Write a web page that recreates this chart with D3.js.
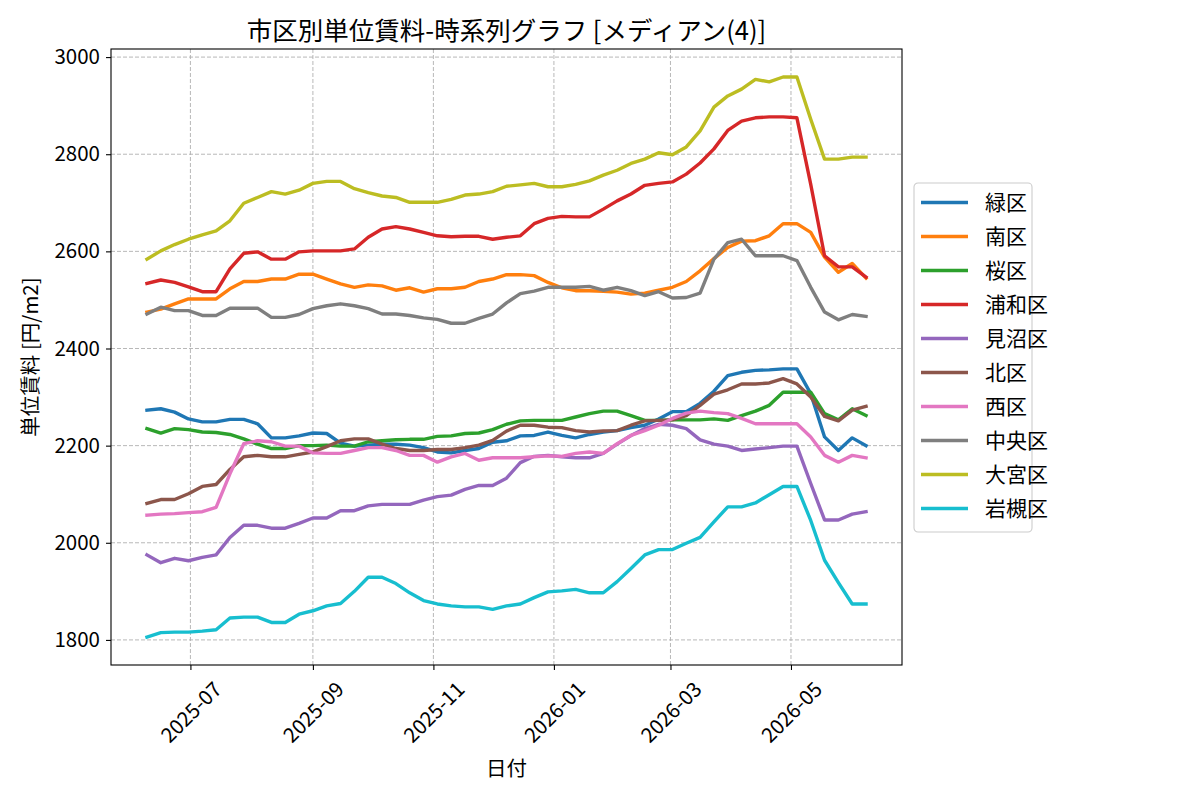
<!DOCTYPE html>
<html>
<head>
<meta charset="utf-8">
<script src="https://cdn.jsdelivr.net/npm/d3@7"></script>
<style>
  body { margin: 0; background: #fff; }
  svg text { font-family: "Noto Sans CJK JP", "Noto Sans", sans-serif; fill: #000; }
</style>
</head>
<body>
<div id="chart"></div>
<script>
/* weekly dates */
const dates = [
  "2025-06-09","2025-06-16","2025-06-23","2025-06-30","2025-07-07","2025-07-14","2025-07-21","2025-07-28",
  "2025-08-04","2025-08-11","2025-08-18","2025-08-25","2025-09-01","2025-09-08","2025-09-15","2025-09-22",
  "2025-09-29","2025-10-06","2025-10-13","2025-10-20","2025-10-27","2025-11-03","2025-11-10","2025-11-17",
  "2025-11-24","2025-12-01","2025-12-08","2025-12-15","2025-12-22","2025-12-29","2026-01-05","2026-01-12",
  "2026-01-19","2026-01-26","2026-02-02","2026-02-09","2026-02-16","2026-02-23","2026-03-02","2026-03-09",
  "2026-03-16","2026-03-23","2026-03-30","2026-04-06","2026-04-13","2026-04-20","2026-04-27","2026-05-04",
  "2026-05-11","2026-05-18","2026-05-25","2026-06-01","2026-06-08"
];

const wards = ["緑区", "南区", "桜区", "浦和区", "見沼区", "北区", "西区", "中央区", "大宮区", "岩槻区"];
const colors = ["#1f77b4", "#ff7f0e", "#2ca02c", "#d62728", "#9467bd", "#8c564b", "#e377c2", "#7f7f7f", "#bcbd22", "#17becf"];

const midori = [2273,2276,2269,2255,2249,2249,2254,2254,2245,2216, 2216,2220,2226,2225,2205,2199,2201,2203,2203,2201,
  2196,2187,2185,2190,2194,2207,2210,2220,2221,2228, 2221,2216,2223,2228,2231,2237,2242,2255,2270,2270,
  2287,2312,2344,2351,2355,2356,2358,2358,2307,2218, 2190,2216,2200];
const minami = [2475,2481,2492,2502,2502,2502,2523,2538,2538,2543, 2543,2553,2553,2543,2533,2526,2531,2529,2520,2525,
  2516,2523,2523,2526,2538,2543,2552,2552,2550,2536, 2525,2519,2519,2518,2516,2512,2514,2520,2526,2538,
  2560,2585,2608,2621,2622,2632,2657,2657,2639,2588, 2557,2575,2545];
const sakura = [2235,2226,2235,2233,2228,2227,2223,2214,2203,2194, 2194,2200,2200,2201,2199,2199,2208,2210,2212,2213,
  2213,2219,2220,2225,2226,2233,2244,2251,2252,2252, 2252,2259,2266,2271,2271,2262,2252,2252,2253,2253,
  2253,2255,2252,2262,2271,2283,2310,2310,2310,2266, 2253,2276,2262];
const urawa = [2534,2541,2536,2527,2517,2517,2564,2596,2599,2584, 2584,2599,2601,2601,2601,2605,2629,2646,2651,2646,
  2639,2632,2630,2631,2631,2625,2629,2632,2657,2668, 2672,2671,2671,2687,2704,2718,2736,2740,2743,2759,
  2782,2811,2849,2868,2875,2877,2877,2875,2738,2591, 2568,2568,2547];
const minuma = [1975,1959,1968,1963,1970,1975,2011,2036,2036,2030, 2030,2040,2051,2051,2066,2066,2076,2079,2079,2079,
  2088,2095,2098,2110,2118,2118,2133,2165,2178,2180, 2177,2175,2175,2184,2203,2221,2235,2244,2242,2235,
  2212,2203,2199,2190,2193,2196,2199,2199,2122,2047, 2047,2059,2064];
const kita = [2081,2089,2089,2101,2116,2120,2151,2177,2180,2177, 2177,2182,2187,2198,2210,2214,2214,2203,2194,2190,
  2190,2192,2192,2196,2201,2211,2230,2242,2242,2238, 2237,2231,2228,2230,2231,2242,2251,2252,2253,2262,
  2283,2306,2315,2327,2327,2329,2338,2327,2300,2260, 2251,2273,2281];
const nishi = [2057,2059,2060,2062,2064,2073,2142,2204,2210,2208, 2199,2199,2185,2184,2184,2190,2196,2196,2190,2180,
  2180,2166,2177,2184,2170,2175,2175,2175,2177,2179, 2178,2184,2187,2184,2204,2221,2231,2242,2256,2267,
  2271,2268,2266,2256,2245,2245,2245,2245,2218,2180, 2166,2180,2175];
const chuo = [2471,2485,2478,2478,2468,2468,2483,2483,2483,2464, 2464,2470,2482,2488,2492,2488,2482,2471,2471,2468,
  2463,2460,2452,2452,2462,2471,2494,2513,2518,2526, 2526,2526,2528,2520,2526,2519,2509,2517,2504,2505,
  2514,2584,2618,2625,2591,2591,2591,2581,2526,2475, 2459,2470,2466];
const omiya = [2584,2601,2614,2625,2634,2642,2663,2699,2711,2723, 2718,2726,2740,2744,2744,2729,2721,2714,2711,2701,
  2701,2701,2707,2716,2718,2723,2734,2737,2740,2733, 2733,2738,2745,2757,2767,2781,2790,2803,2799,2815,
  2848,2897,2920,2934,2954,2949,2959,2959,2872,2790, 2790,2794,2794];
const iwatsuki = [1806,1815,1816,1816,1818,1821,1845,1847,1847,1836, 1836,1853,1860,1870,1875,1900,1929,1929,1916,1897,
  1881,1874,1870,1868,1868,1863,1870,1874,1887,1899, 1901,1904,1897,1897,1920,1947,1975,1986,1986,1999,
  2011,2043,2074,2074,2082,2099,2116,2116,2046,1964, 1918,1874,1874];

const yTicks = [1800, 2000, 2200, 2400, 2600, 2800, 3000];
const xTicks = ["2025-07-01", "2025-09-01", "2025-11-01", "2026-01-01", "2026-03-01", "2026-05-01"];

const seriesValues = [midori, minami, sakura, urawa, minuma, kita, nishi, chuo, omiya, iwatsuki];

/* layout */
const W = 1200, H = 800;
const margin = { top: 49, right: 298, bottom: 135, left: 111 };
const width = W - margin.left - margin.right,
      height = H - margin.top - margin.bottom;

const parse = d3.timeParse("%Y-%m-%d");
const xDates = dates.map(parse);

const svg = d3.select("#chart").append("svg")
    .attr("width", W)
    .attr("height", H);

const g = svg.append("g")
    .attr("transform", "translate(" + margin.left + "," + margin.top + ")");

/* scales with 5% margins like matplotlib */
const xExt = d3.extent(xDates);
const xPad = (xExt[1] - xExt[0]) * 0.05;
const x = d3.scaleTime()
    .domain([new Date(+xExt[0] - xPad), new Date(+xExt[1] + xPad)])
    .range([0, width]);

const allVals = seriesValues.flat();
const yMin = d3.min(allVals), yMax = d3.max(allVals);
const yPad = (yMax - yMin) * 0.05;
const y = d3.scaleLinear()
    .domain([yMin - yPad, yMax + yPad])
    .range([height, 0]);

/* grid */
g.append("g")
    .selectAll("line")
    .data(xTicks.map(parse))
    .enter().append("line")
    .attr("x1", d => x(d)).attr("x2", d => x(d))
    .attr("y1", 0).attr("y2", height)
    .attr("stroke", "#b0b0b0")
    .attr("stroke-width", 0.9)
    .attr("stroke-dasharray", "4,2");

g.append("g")
    .selectAll("line")
    .data(yTicks)
    .enter().append("line")
    .attr("x1", 0).attr("x2", width)
    .attr("y1", d => y(d)).attr("y2", d => y(d))
    .attr("stroke", "#b0b0b0")
    .attr("stroke-width", 0.9)
    .attr("stroke-dasharray", "4,2");

/* lines */
const line = d3.line()
    .x((d, i) => x(xDates[i]))
    .y(d => y(d));

svg.append("clipPath").attr("id", "plotclip")
    .append("rect").attr("width", width).attr("height", height);

seriesValues.forEach(function(vals, k) {
    g.append("path")
        .datum(vals)
        .attr("fill", "none")
        .attr("stroke", colors[k])
        .attr("stroke-width", 3.4)
        .attr("stroke-linejoin", "round")
        .attr("stroke-linecap", "square")
        .attr("clip-path", "url(#plotclip)")
        .attr("d", line);
});

/* axes */
const xAxis = g.append("g")
    .attr("transform", "translate(0," + height + ")")
    .call(d3.axisBottom(x).tickValues(xTicks.map(parse)).tickSize(5).tickFormat(d3.timeFormat("%Y-%m")));
xAxis.select(".domain").remove();
xAxis.selectAll(".tick line").attr("stroke", "#000").attr("stroke-width", 1.1);
xAxis.selectAll(".tick text")
    .style("font-size", "20.5px")
    .attr("text-anchor", "middle")
    .attr("dominant-baseline", "central")
    .attr("y", 0).attr("dy", 0)
    .attr("transform", "translate(-1,46) rotate(-45)");

const yAxis = g.append("g")
    .call(d3.axisLeft(y).tickValues(yTicks).tickSize(5).tickPadding(6).tickFormat(d3.format("d")));
yAxis.select(".domain").remove();
yAxis.selectAll(".tick line").attr("stroke", "#000").attr("stroke-width", 1.1);
yAxis.selectAll(".tick text").style("font-size", "20.5px");

/* frame */
g.append("rect")
    .attr("width", width).attr("height", height)
    .attr("fill", "none")
    .attr("stroke", "#000")
    .attr("stroke-width", 1.1);

/* title and labels */
svg.append("text")
    .attr("x", margin.left + width / 2)
    .attr("y", 40)
    .attr("text-anchor", "middle")
    .style("font-size", "25.5px")
    .text("市区別単位賃料-時系列グラフ [メディアン(4)]");

svg.append("text")
    .attr("x", margin.left + width / 2)
    .attr("y", 776)
    .attr("text-anchor", "middle")
    .style("font-size", "20.5px")
    .text("日付");

svg.append("text")
    .attr("transform", "translate(38," + (margin.top + height / 2) + ") rotate(-90)")
    .attr("text-anchor", "middle")
    .style("font-size", "20.5px")
    .text("単位賃料 [円/m2]");

/* legend */
const legend = svg.append("g").attr("transform", "translate(914,183)");
legend.append("rect")
    .attr("width", 118).attr("height", 349)
    .attr("rx", 4).attr("ry", 4)
    .attr("fill", "#fff").attr("fill-opacity", 0.8)
    .attr("stroke", "#cccccc").attr("stroke-width", 1.1);

const item = legend.selectAll(".item")
    .data(wards)
    .enter().append("g")
    .attr("class", "item")
    .attr("transform", (d, i) => "translate(0," + (19.5 + i * 34) + ")");

item.append("line")
    .attr("x1", 7).attr("x2", 54)
    .attr("stroke", (d, i) => colors[i])
    .attr("stroke-width", 3.4);

item.append("text")
    .attr("x", 71)
    .attr("dy", "0.35em")
    .style("font-size", "21px")
    .text(d => d);
</script>
</body>
</html>
